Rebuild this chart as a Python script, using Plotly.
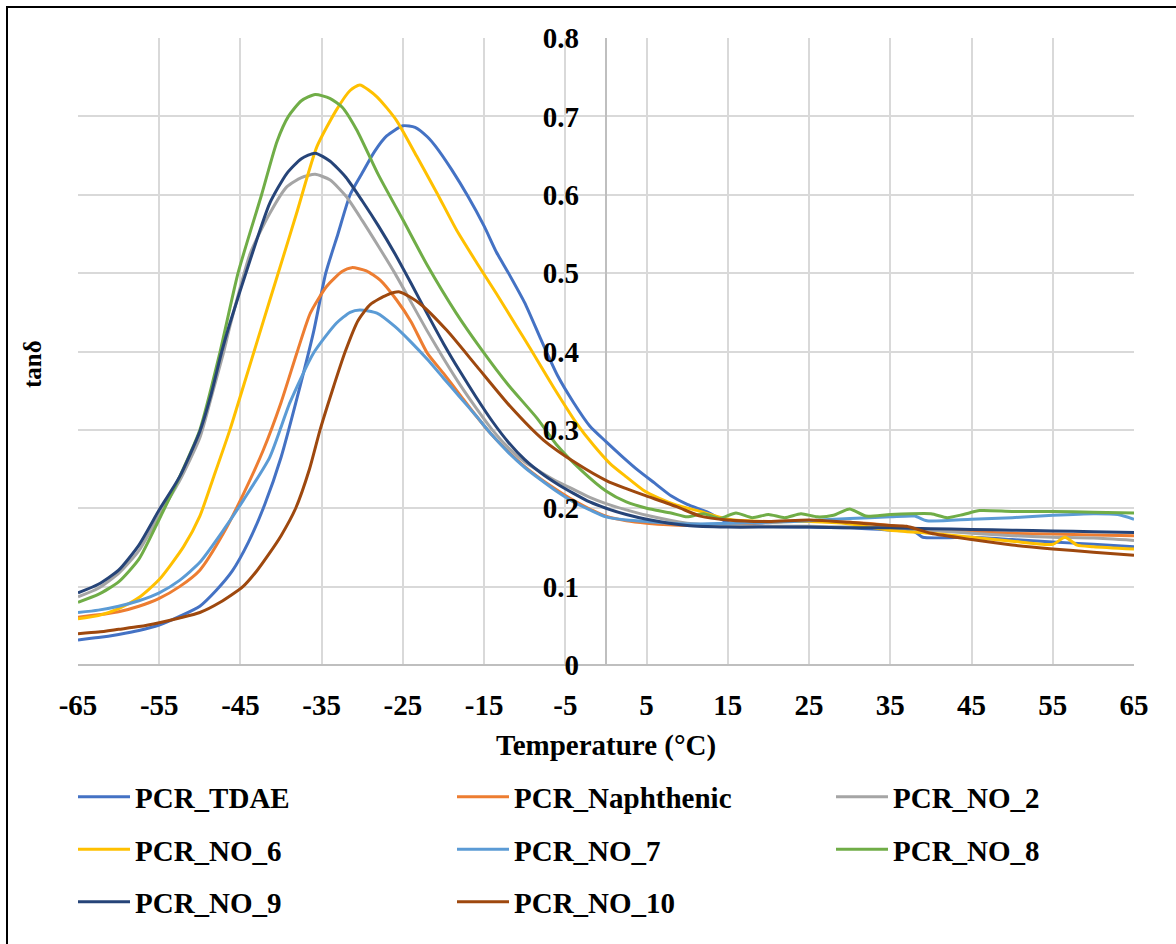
import plotly.graph_objects as go

# ---------------- data ----------------
t_tdae = [-65,-62.5,-60,-57.5,-55,-52.5,-50,-48,-46,-44,-42,-40,-38,-36,-34.5,-33,-31.5,-30,-28.5,-27,-25,-23.5,-22,-21,-19,-17,-15,-13.5,-12,-10,-8,-6,-4,-2,0,2,4,6,8,10,12.5,15,20,25,30,35,38,39,45,50,55,60,65]
v_tdae = [0.032,0.035,0.039,0.044,0.051,0.062,0.075,0.095,0.12,0.157,0.205,0.265,0.342,0.425,0.50,0.55,0.60,0.628,0.655,0.675,0.688,0.686,0.674,0.662,0.632,0.598,0.560,0.527,0.500,0.462,0.415,0.370,0.335,0.305,0.285,0.266,0.248,0.232,0.216,0.205,0.195,0.182,0.177,0.176,0.175,0.172,0.170,0.163,0.163,0.160,0.157,0.154,0.151]

t_naph = [-65,-62.5,-60,-57.5,-55,-52.5,-50,-47.1,-44.6,-42.2,-40,-38,-36.4,-34.4,-32.5,-31.3,-29.5,-27.8,-25.8,-24,-22,-20,-18,-16,-14,-12,-10,-8,-6,-4,-2,0,2.5,5,10,15,20,25,30,35,40,45,50,55,60,65]
v_naph = [0.061,0.064,0.068,0.075,0.085,0.100,0.121,0.168,0.219,0.274,0.335,0.400,0.449,0.483,0.502,0.507,0.503,0.491,0.466,0.438,0.398,0.372,0.345,0.318,0.293,0.272,0.253,0.237,0.223,0.210,0.199,0.190,0.184,0.181,0.178,0.179,0.182,0.184,0.182,0.178,0.172,0.170,0.168,0.167,0.166,0.165]

t_no2 = [-65,-62.5,-60,-57.5,-55,-52.5,-50,-48.5,-47.1,-46.3,-43.8,-41.4,-39.3,-37.5,-35.8,-34,-32,-30,-28,-26,-24,-22,-20,-18,-16,-14,-12,-10,-8,-6,-4,-2,0,2.5,5,10,15,20,25,30,35,40,45,50,55,60,65]
v_no2 = [0.087,0.098,0.117,0.146,0.191,0.235,0.290,0.345,0.398,0.432,0.525,0.576,0.610,0.622,0.626,0.619,0.598,0.567,0.534,0.500,0.463,0.426,0.391,0.358,0.328,0.300,0.277,0.259,0.246,0.234,0.224,0.214,0.206,0.198,0.191,0.181,0.178,0.177,0.177,0.176,0.175,0.172,0.168,0.165,0.163,0.162,0.159]

t_no6 = [-65,-62.5,-60,-57.5,-55,-52,-50,-48.3,-46.3,-44.6,-43,-41.4,-39.7,-38.1,-35.6,-33.2,-31.5,-30.3,-28.2,-25.8,-23.3,-20.8,-18.4,-15.9,-13.5,-11,-9.4,-6.5,-3.6,-1.5,0.5,2.5,4.6,6.5,8.7,11.6,15,20,25,30,35,40,45,50,55,56.5,58,60,65]
v_no6 = [0.059,0.063,0.072,0.086,0.109,0.151,0.190,0.240,0.300,0.357,0.411,0.465,0.522,0.576,0.661,0.708,0.733,0.740,0.725,0.695,0.649,0.602,0.555,0.513,0.474,0.432,0.405,0.355,0.308,0.280,0.257,0.240,0.223,0.213,0.204,0.196,0.186,0.183,0.183,0.180,0.172,0.168,0.163,0.158,0.154,0.163,0.153,0.151,0.148]

t_no7 = [-65,-62.5,-60,-57.5,-55,-52.5,-50,-47.1,-44.6,-41.4,-38.9,-36,-33.2,-31.5,-30.3,-28.2,-26,-24,-22,-20,-18,-16,-14,-12,-10,-8,-6,-4,-2,0,2.5,5,10,15,20,25,30,35,38,39.5,45,50,55,60,63,65]
v_no7 = [0.067,0.070,0.075,0.082,0.092,0.108,0.131,0.172,0.211,0.265,0.335,0.398,0.436,0.450,0.453,0.449,0.432,0.412,0.390,0.366,0.342,0.318,0.293,0.271,0.252,0.236,0.221,0.208,0.198,0.189,0.185,0.183,0.180,0.181,0.182,0.184,0.187,0.189,0.190,0.184,0.186,0.188,0.191,0.193,0.192,0.186]

t_no8 = [-65,-62.5,-60,-57.5,-55,-52.5,-50,-47.5,-45.3,-42.4,-40.5,-39.1,-37.5,-35.8,-34,-32.5,-30.7,-28,-25,-22,-18.5,-15.5,-12,-8.5,-6,-3,0,2.5,5,8,10,12,14,16,18,20,22,24,26,28,30,32,35,40,42,44,46,50,55,60,65]
v_no8 = [0.080,0.090,0.106,0.135,0.186,0.240,0.300,0.400,0.500,0.600,0.668,0.700,0.720,0.728,0.723,0.712,0.683,0.625,0.568,0.510,0.450,0.405,0.357,0.315,0.280,0.248,0.222,0.208,0.200,0.194,0.189,0.193,0.187,0.194,0.188,0.192,0.188,0.193,0.189,0.191,0.199,0.190,0.192,0.193,0.188,0.192,0.197,0.196,0.196,0.195,0.194]

t_no9 = [-65,-62.5,-60,-57.5,-55,-52.5,-50,-48.7,-47.3,-46.3,-43.8,-41.4,-39.3,-37.5,-35.8,-34,-32,-30,-28,-26,-24,-22,-20,-18,-16,-14,-12,-10,-8,-6,-4,-2,0,2.5,5,10,15,20,25,30,35,40,45,50,55,60,65]
v_no9 = [0.092,0.103,0.121,0.153,0.198,0.240,0.298,0.342,0.400,0.436,0.517,0.589,0.627,0.646,0.653,0.643,0.622,0.592,0.560,0.525,0.487,0.448,0.410,0.375,0.342,0.311,0.284,0.262,0.245,0.231,0.219,0.208,0.200,0.192,0.186,0.178,0.176,0.176,0.176,0.175,0.175,0.174,0.173,0.172,0.171,0.170,0.169]

t_no10 = [-65,-62.5,-60,-57.5,-55,-52.5,-50,-47.5,-44.7,-43,-41.4,-40,-38.2,-36.5,-35.2,-33.7,-32.1,-30.5,-29,-27,-25.4,-22.9,-19.6,-15.9,-11.8,-7.7,-3.6,0.1,2.5,4.6,8.7,11.6,15,20,25,30,35,37,40,45,50,55,60,65]
v_no10 = [0.040,0.042,0.0455,0.049,0.054,0.060,0.067,0.080,0.100,0.120,0.143,0.165,0.200,0.250,0.300,0.350,0.400,0.440,0.460,0.472,0.476,0.461,0.427,0.381,0.330,0.287,0.257,0.235,0.225,0.217,0.202,0.190,0.185,0.183,0.185,0.182,0.178,0.177,0.168,0.160,0.153,0.148,0.144,0.140]

names = ["PCR_TDAE", "PCR_Naphthenic", "PCR_NO_2", "PCR_NO_6", "PCR_NO_7",
         "PCR_NO_8", "PCR_NO_9", "PCR_NO_10"]
colors = ["#4472C4", "#ED7D31", "#A5A5A5", "#FFC000", "#5B9BD5",
          "#70AD47", "#264478", "#9E480E"]
xs = [t_tdae, t_naph, t_no2, t_no6, t_no7, t_no8, t_no9, t_no10]
ys = [v_tdae, v_naph, v_no2, v_no6, v_no7, v_no8, v_no9, v_no10]

x_ticks = list(range(-65, 66, 10))
y_ticks = [0, 0.1, 0.2, 0.3, 0.4, 0.5, 0.6, 0.7, 0.8]

FONT = "Liberation Serif"
FS = 29

W, H = 1176, 944
L, R, T, B = 78, 42, 38, 279
ph = H - T - B

def py(pix):
    return (H - B - pix) / ph

def px(pix):
    return (pix - L) / (W - L - R)

fig = go.Figure()
legends = {}
for i, (n, c, x, y) in enumerate(zip(names, colors, xs, ys)):
    lid = "legend" if i == 0 else f"legend{i + 1}"
    row, col = divmod(i, 3)
    legends[lid] = dict(
        orientation="h", xanchor="left", yanchor="middle",
        x=px(73 + 379 * col), y=py(797 + 52.5 * row),
        font=dict(family=FONT, size=FS, color="black", weight="bold"),
        itemwidth=52, bgcolor="rgba(0,0,0,0)", visible=True)
    fig.add_trace(go.Scatter(x=x, y=y, name=n, mode="lines", showlegend=True,
                             line=dict(color=c, width=3, shape="spline", smoothing=0.6),
                             legend=lid))

fig.update_layout(
    width=W, height=H,
    showlegend=True,
    margin=dict(l=L, r=R, t=T, b=B),
    paper_bgcolor="white", plot_bgcolor="white",
    font=dict(family=FONT, size=FS, color="black"),
    xaxis=dict(range=[-65, 65], tickvals=x_ticks, ticktext=[str(v) for v in x_ticks],
               showgrid=True, gridcolor="#D9D9D9", gridwidth=1.5,
               zeroline=True, zerolinecolor="#BFBFBF", zerolinewidth=1.5,
               showline=False, ticks="", ticklabelstandoff=20,
               tickfont=dict(family=FONT, size=FS, color="black", weight="bold")),
    yaxis=dict(range=[0, 0.8], tickvals=y_ticks, ticktext=["0"] + [f"{v:.1f}" for v in y_ticks[1:]],
               showgrid=True, gridcolor="#D9D9D9", gridwidth=1.5,
               zeroline=True, zerolinecolor="#BFBFBF", zerolinewidth=1.5,
               anchor="free", position=0.5, showline=False, ticks="",
               ticklabelstandoff=27,
               tickfont=dict(family=FONT, size=FS, color="black", weight="bold")),
    annotations=[
        dict(text="<b>Temperature (°C)</b>", x=px(606), y=py(745), xref="paper", yref="paper",
             showarrow=False, xanchor="center", yanchor="middle",
             font=dict(family=FONT, size=FS, color="black")),
        dict(text="<b>tanδ</b>", x=px(32), y=py(364), xref="paper", yref="paper",
             showarrow=False, xanchor="center", yanchor="middle", textangle=-90,
             font=dict(family=FONT, size=25, color="black")),
    ],
    shapes=[
        dict(type="rect", xref="paper", yref="paper", x0=px(7), x1=px(1190), y0=py(7), y1=py(960),
             line=dict(color="black", width=2), fillcolor="rgba(0,0,0,0)", layer="above"),
    ],
)
fig.update_layout(**legends)

fig.write_html("out.html")
